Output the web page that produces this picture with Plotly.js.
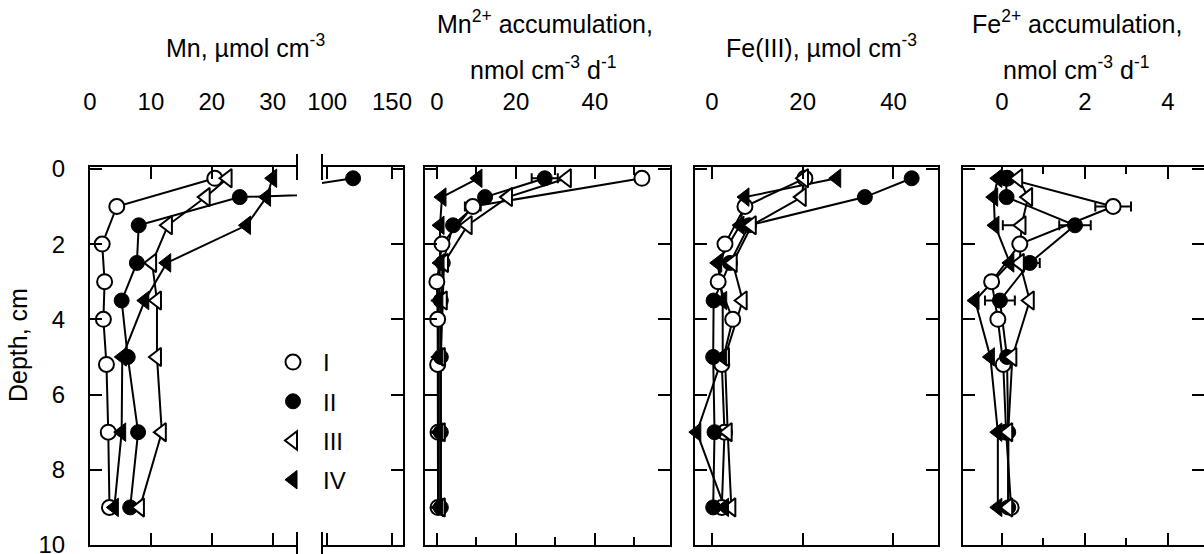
<!DOCTYPE html>
<html><head><meta charset="utf-8">
<script src="https://cdn.plot.ly/plotly-3.0.1.min.js"></script>
<style>html,body{margin:0;padding:0;background:#fff}</style>
</head><body><div id="chart" style="width:1204px;height:554px"></div>
<script>
// ---------- data ----------
const depthI = [0.25, 1.0, 2.0, 3.0, 4.0, 5.2, 7.0, 9.0];   // core I sampling depths (cm)
const depth  = [0.25, 0.75, 1.5, 2.5, 3.5, 5.0, 7.0, 9.0];  // cores II-IV sampling depths (cm)
const seriesNames = ['I', 'II', 'III', 'IV'];

// Mn, umol cm-3
const mnI   = [20.5, 4.4, 2.0, 2.4, 2.2, 2.7, 3.0, 3.2];
const mnII  = [120, 24.6, 8.0, 7.7, 5.2, 6.2, 7.9, 6.6];
const mnIII = [22.6, 19.0, 12.8, 10.2, 11.0, 11.0, 11.8, 8.2];
const mnIV  = [30, 29, 25.7, 12.6, 9.0, 5.3, 5.2, 4.0];

// Mn2+ accumulation, nmol cm-3 d-1
const mn2I   = [51.9, 9.1, 1.3, 0.0, 0.2, 0.2, 0.3, 0.3];
const mn2II  = [27.3, 12.2, 4.1, 1.5, 1.0, 1.0, 1.0, 1.0];
const mn2III = [32.9, 18.0, 7.8, 1.8, 1.5, 1.0, 1.0, 1.0];
const mn2IV  = [10.4, 1.3, 0.8, 0.8, 0.5, 0.5, 0.5, 0.5];
const mn2IErr  = [NaN, 2.0, 1.0, NaN, NaN, NaN, NaN, NaN];
const mn2IIErr = [3.3, NaN, NaN, NaN, NaN, NaN, NaN, NaN];

// Fe(III), umol cm-3
const feI   = [20.5, 7.3, 2.9, 1.4, 4.6, 2.2, 2.8, 2.2];
const feII  = [44.0, 33.7, 8.2, 4.0, 0.4, 0.3, 0.6, 0.3];
const feIII = [20.3, 19.8, 8.8, 4.6, 6.8, 2.9, 3.5, 4.3];
const feIV  = [27.5, 7.3, 6.2, 1.3, 2.4, 2.4, -3.3, 2.8];

// Fe2+ accumulation, nmol cm-3 d-1
const fe2I   = [0.12, 2.68, 0.43, -0.25, -0.1, 0.03, 0.1, 0.22];
const fe2II  = [0.1, 0.11, 1.76, 0.67, -0.05, 0.12, 0.15, 0.15];
const fe2III = [0.39, 0.63, 0.47, 0.43, 0.67, 0.25, 0.15, 0.15];
const fe2IV  = [-0.1, -0.2, -0.17, 0.19, -0.65, -0.28, -0.1, -0.1];
const fe2IErr      = [NaN, 0.43, 0.1, 0.15, NaN, NaN, NaN, NaN];
const fe2IIErr     = [NaN, NaN, 0.38, 0.24, 0.36, NaN, NaN, NaN];
const fe2IIIErrMinus = [NaN, NaN, 0.45, NaN, NaN, NaN, NaN, NaN];

// ---------- styling ----------
const W = 1204, H = 554;
const FONT = 'Liberation Sans, Arial, sans-serif';
const FS = 24;
const TFS = 25;
const yTop = 167, yBot = 545;
const yd = [1 - yBot / H, 1 - yTop / H];
const dom = (a, b) => [a / W, Math.min(1, b / W)];

const markerStyles = [
  {symbol: 'circle', size: 15, color: 'white', line: {color: 'black', width: 2}},
  {symbol: 'circle', size: 15, color: 'black', line: {color: 'black', width: 1}},
  {symbol: 'triangle-left', size: 16, color: 'white', line: {color: 'black', width: 2}},
  {symbol: 'triangle-left', size: 16, color: 'black', line: {color: 'black', width: 1}}
];

const traces = [];
function addPanel(xa, yaLines, yaMarkers, values, errs, clip, legend) {
  const ys = [depthI, depth, depth, depth];
  values.forEach((v, i) => {
    traces.push({type: 'scatter', mode: 'lines', x: v, y: ys[i], xaxis: xa, yaxis: yaLines,
      line: {color: 'black', width: 2}, showlegend: false, hoverinfo: 'skip'});
  });
  values.forEach((v, i) => {
    const t = {type: 'scatter', mode: 'markers', x: v, y: ys[i], xaxis: xa, yaxis: yaMarkers,
      name: seriesNames[i], legendgroup: 'g' + i, marker: markerStyles[i],
      cliponaxis: clip, showlegend: !!legend, hoverinfo: 'x+y'};
    if (errs && errs[i]) {
      t.error_x = Object.assign({type: 'data', color: 'black', thickness: 2, width: 5}, errs[i]);
    }
    traces.push(t);
  });
}

const mnVals = [mnI, mnII, mnIII, mnIV];
addPanel('x', 'y', 'y', mnVals, null, true, true);
addPanel('x2', 'y2', 'y2', mnVals, null, true, false);
addPanel('x3', 'y3', 'y3', [mn2I, mn2II, mn2III, mn2IV],
  [{array: mn2IErr}, {array: mn2IIErr}, null, null], false, false);
addPanel('x4', 'y4', 'y4', [feI, feII, feIII, feIV], null, false, false);
addPanel('x5', 'y5', 'y6', [fe2I, fe2II, fe2III, fe2IV],
  [{array: fe2IErr}, {array: fe2IIErr},
   {symmetric: false, array: fe2IIIErrMinus.map(() => NaN), arrayminus: fe2IIIErrMinus}, null], false, false);

const axBase = {showline: true, linecolor: 'black', linewidth: 2, ticks: 'inside', ticklen: 12,
  tickwidth: 2, tickcolor: 'black', showgrid: false, zeroline: false,
  tickfont: {size: FS, color: 'black', family: FONT}, fixedrange: true, ticklabeloverflow: 'allow'};
const yRange = [10, -0.05];
const xAx = (anchor, d, range, tv, extra) => Object.assign({}, axBase, {anchor: anchor, domain: d,
  range: range, tickvals: tv, ticktext: tv.map(String), side: 'top', mirror: 'ticks',
  ticklabelstandoff: 45}, extra || {});
const yAx = (anchor, extra) => Object.assign({}, axBase, {anchor: anchor, domain: yd, range: yRange,
  tickvals: [0, 2, 4, 6, 8, 10], showticklabels: false}, extra || {});

const layout = {
  width: W, height: H, margin: {l: 0, r: 0, t: 0, b: 0},
  paper_bgcolor: 'white', plot_bgcolor: 'rgba(0,0,0,0)',
  font: {family: FONT, size: FS, color: 'black'},
  xaxis:  xAx('y',  dom(90, 297),  [0, 34],       [0, 10, 20, 30]),
  xaxis2: xAx('y2', dom(322, 403), [96, 158.5],   [100, 150]),
  xaxis3: xAx('y3', dom(425, 670), [-3, 59],      [0, 20, 40],
          {minor: {tickvals: [10, 30, 50], ticks: 'inside', ticklen: 8, tickwidth: 2, tickcolor: 'black'}}),
  xaxis4: xAx('y4', dom(695, 938), [-3.7, 49.8],  [0, 20, 40]),
  xaxis5: xAx('y5', dom(963, 1204), [-0.94, 4.87], [0, 2, 4],
          {minor: {tickvals: [1, 3], ticks: 'inside', ticklen: 7, tickwidth: 2, tickcolor: 'black'}}),
  yaxis:  yAx('x', {side: 'left', mirror: false, showticklabels: true, ticklabelstandoff: 18}),
  yaxis2: yAx('x2', {side: 'right', mirror: false}),
  yaxis3: yAx('x3', {mirror: 'ticks'}),
  yaxis4: yAx('x4', {mirror: 'ticks'}),
  yaxis5: yAx('x5', {side: 'left', mirror: false}),
  yaxis6: Object.assign(yAx('x5', {side: 'right', showline: false}), {overlaying: 'y5', domain: undefined}),
  showlegend: true,
  legend: {x: 263 / W, y: 1 - 340 / H, xanchor: 'left', yanchor: 'top', bgcolor: 'rgba(0,0,0,0)',
    font: {size: FS, family: FONT}, traceorder: 'grouped', tracegroupgap: 5, itemwidth: 50},
  shapes: [],
  annotations: []
};

// axis-break marks on panel 1
const bh = 13 / (yBot - yTop);
[['x domain', 1], ['x2 domain', 0]].forEach(([xr, xv]) => {
  [[1 - bh, 1 + bh], [-bh, bh]].forEach(([a, b]) => {
    layout.shapes.push({type: 'line', xref: xr, yref: 'y domain', x0: xv, x1: xv, y0: a, y1: b,
      line: {color: 'black', width: 2}});
  });
});

const ann = (text, x, y, extra) => Object.assign({text: text, xref: 'paper', yref: 'paper',
  x: x / W, y: 1 - y / H, xanchor: 'center', yanchor: 'middle', showarrow: false,
  font: {size: TFS, family: FONT, color: 'black'}}, extra || {});
layout.annotations.push(
  ann('Mn, µmol cm<sup>-3</sup>', 245, 46),
  ann('Mn<sup>2+</sup> accumulation,', 545, 22),
  ann('nmol cm<sup>-3</sup> d<sup>-1</sup>', 543, 68),
  ann('Fe(III), µmol cm<sup>-3</sup>', 821, 46),
  ann('Fe<sup>2+</sup> accumulation,', 1077, 22),
  ann('nmol cm<sup>-3</sup> d<sup>-1</sup>', 1076, 68),
  ann('Depth, cm', 18, 345, {textangle: -90})
);

Plotly.newPlot('chart', traces, layout, {displayModeBar: false, staticPlot: true});
</script></body></html>
